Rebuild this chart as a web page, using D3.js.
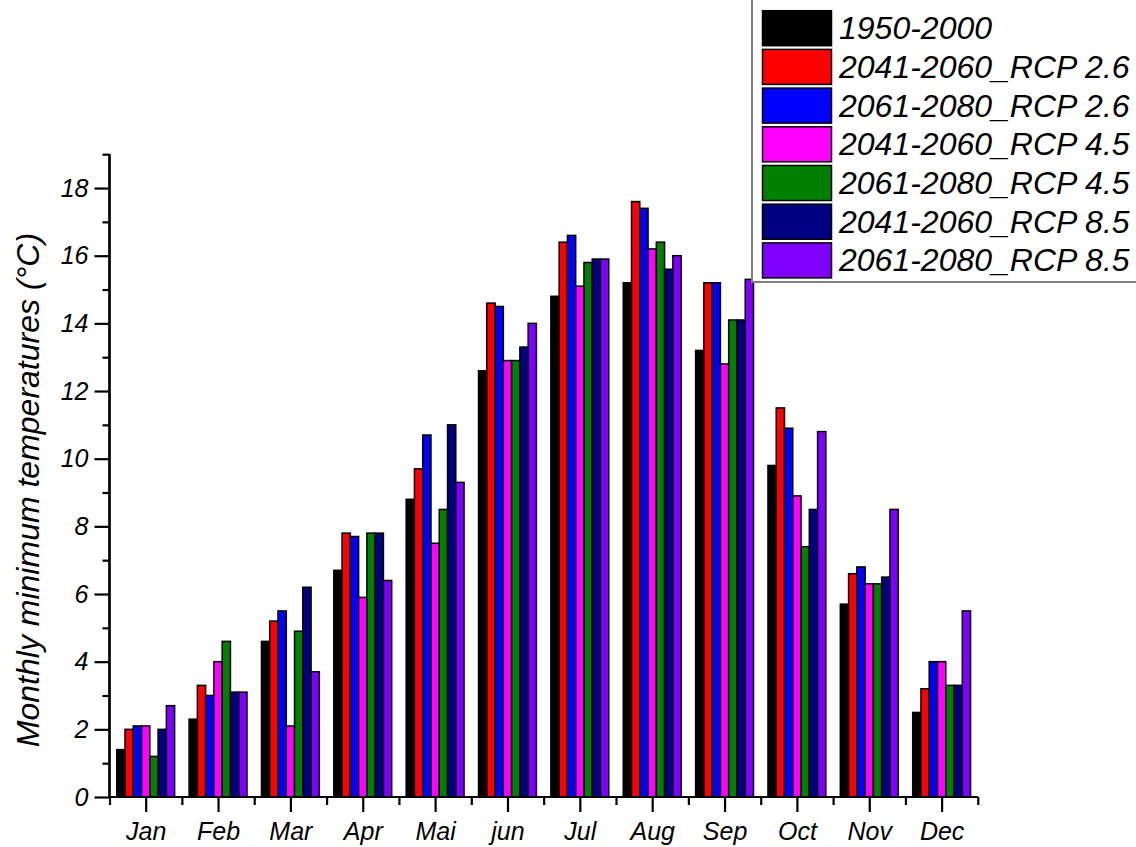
<!DOCTYPE html>
<html>
<head>
<meta charset="utf-8">
<script src="https://cdn.jsdelivr.net/npm/d3@7"></script>
<style>
  body { margin: 0; background: #fff; }
  svg { display: block; font-family: "Liberation Sans", Arial, sans-serif; font-style: italic; }
</style>
</head>
<body>
<div id="chart"></div>
<script>
// months and series
const months = ["Jan", "Feb", "Mar", "Apr", "Mai", "jun", "Jul", "Aug", "Sep", "Oct", "Nov", "Dec"];
const seriesNames = ["1950-2000", "2041-2060_RCP 2.6", "2061-2080_RCP 2.6", "2041-2060_RCP 4.5",
  "2061-2080_RCP 4.5", "2041-2060_RCP 8.5", "2061-2080_RCP 8.5"];
const seriesColors = ["#000000", "#ff0000", "#0000ff", "#ff00ff", "#008000", "#000080", "#8000ff"];

const base1950 = [1.4, 2.3, 4.6, 6.7, 8.8, 12.6, 14.8, 15.2, 13.2, 9.8, 5.7, 2.5];
const rcp26_2041 = [2.0, 3.3, 5.2, 7.8, 9.7, 14.6, 16.4, 17.6, 15.2, 11.5, 6.6, 3.2];
const rcp26_2061 = [2.1, 3.0, 5.5, 7.7, 10.7, 14.5, 16.6, 17.4, 15.2, 10.9, 6.8, 4.0];
const rcp45_2041 = [2.1, 4.0, 2.1, 5.9, 7.5, 12.9, 15.1, 16.2, 12.8, 8.9, 6.3, 4.0];
const rcp45_2061 = [1.2, 4.6, 4.9, 7.8, 8.5, 12.9, 15.8, 16.4, 14.1, 7.4, 6.3, 3.3];
const rcp85_2041 = [2.0, 3.1, 6.2, 7.8, 11.0, 13.3, 15.9, 15.6, 14.1, 8.5, 6.5, 3.3];
const rcp85_2061 = [2.7, 3.1, 3.7, 6.4, 9.3, 14.0, 15.9, 16.0, 15.3, 10.8, 8.5, 5.5];

const allSeries = [base1950, rcp26_2041, rcp26_2061, rcp45_2041, rcp45_2061, rcp85_2041, rcp85_2061];
const yMajorTicks = [0, 2, 4, 6, 8, 10, 12, 14, 16, 18];
const yMinorTicks = [1, 3, 5, 7, 9, 11, 13, 15, 17, 19];

const width = 1136, height = 847;
const plotLeft = 109.5, plotRight = 977.8, plotBottom = 797, plotTop = 154.2;

const svg = d3.select("#chart").append("svg")
  .attr("width", width)
  .attr("height", height);

// scales
const x = d3.scaleBand().domain(months).range([plotLeft, plotRight]).paddingInner(0.2).paddingOuter(0.1);
const xSub = d3.scaleBand().domain(d3.range(seriesNames.length)).range([0, x.bandwidth()]);
const y = d3.scaleLinear().domain([0, 19]).range([plotBottom, plotTop]);

// bars
const groups = svg.append("g").selectAll("g")
  .data(months)
  .join("g")
  .attr("transform", d => `translate(${x(d)},0)`);

groups.selectAll("rect")
  .data((m, i) => allSeries.map((s, k) => ({ k, v: s[i] })))
  .join("rect")
  .attr("x", d => xSub(d.k))
  .attr("y", d => y(d.v))
  .attr("width", xSub.bandwidth())
  .attr("height", d => y(0) - y(d.v))
  .attr("fill", d => seriesColors[d.k])
  .attr("stroke", "#000")
  .attr("stroke-width", 1.5);

// y axis: major + minor ticks
const yAxis = svg.append("g").attr("transform", `translate(${plotLeft},0)`);
yAxis.call(d3.axisLeft(y).tickValues(yMajorTicks).tickSize(15).tickPadding(6).tickFormat(d3.format("d")));
yAxis.append("g").call(d3.axisLeft(y).tickValues(yMinorTicks).tickSize(7).tickFormat(""));
yAxis.selectAll(".domain").attr("stroke-width", 2.2).attr("d", `M0,${plotBottom}V${plotTop}`);
yAxis.selectAll(".tick line").attr("stroke-width", 2.2);
yAxis.selectAll(".tick text")
  .attr("font-size", 25)
  .attr("font-family", "'Liberation Sans', Arial, sans-serif")
  .attr("font-style", "italic")
  .attr("fill", "#000");

// x axis: major ticks at month centres, minor ticks at boundaries
const xPos = d3.scaleLinear().domain([0, 12]).range([plotLeft, plotRight]);
const xAxis = svg.append("g").attr("transform", `translate(0,${plotBottom})`);
xAxis.call(d3.axisBottom(xPos).tickValues(d3.range(12).map(i => i + 0.5)).tickSize(15).tickPadding(10)
  .tickFormat((d, i) => months[i]));
xAxis.append("g").call(d3.axisBottom(xPos).tickValues(d3.range(13)).tickSize(8).tickFormat(""));
xAxis.selectAll(".domain").attr("stroke-width", 2.2).attr("d", `M${plotLeft},0H${plotRight}`);
xAxis.selectAll(".tick line").attr("stroke-width", 2.2);
xAxis.selectAll(".tick text")
  .attr("font-size", 25)
  .attr("font-family", "'Liberation Sans', Arial, sans-serif")
  .attr("font-style", "italic")
  .attr("fill", "#000");

// y axis title
svg.append("text")
  .attr("transform", "translate(39,490) rotate(-90)")
  .attr("text-anchor", "middle")
  .attr("font-size", 32)
  .attr("fill", "#000")
  .text("Monthly minimum temperatures (°C)");

// legend box
const legend = svg.append("g").attr("transform", "translate(752,0)");
legend.append("rect")
  .attr("x", 0).attr("y", -10)
  .attr("width", 400).attr("height", 292)
  .attr("fill", "#fff")
  .attr("stroke", "#808080")
  .attr("stroke-width", 2);

const rows = legend.selectAll("g.row")
  .data(seriesNames)
  .join("g")
  .classed("row", true)
  .attr("transform", (d, i) => `translate(0,${10.7 + i * 38.7})`);

rows.append("rect")
  .attr("x", 10.5).attr("y", 0)
  .attr("width", 69).attr("height", 35)
  .attr("fill", (d, i) => seriesColors[i])
  .attr("stroke", "#000")
  .attr("stroke-width", 1.5);

rows.append("text")
  .attr("x", 87)
  .attr("y", 28.5)
  .attr("font-size", 32)
  .attr("fill", "#000")
  .text(d => d);
</script>
</body>
</html>
